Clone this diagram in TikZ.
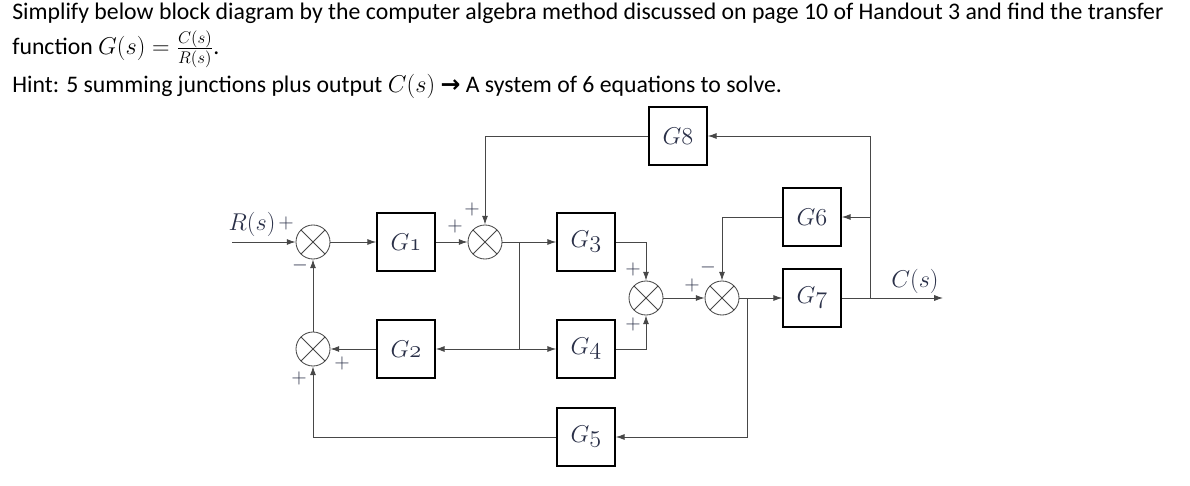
\documentclass[tikz,border=0pt]{standalone}
\usepackage{amsmath}
\usepackage[HTML]{xcolor}
\usepackage{fontspec}
\setmainfont{Carlito}
\newfontfamily\arrowfont{DejaVu Sans}
\usetikzlibrary{arrows.meta}

\definecolor{wire}{HTML}{474747}
\definecolor{ink}{HTML}{2A3048}
\newcommand\blockfont{\fontsize{18}{20}\selectfont\color{ink}}
\newcommand\sigfont{\fontsize{16}{18}\selectfont\color{ink}}
\newcommand\signfont{\fontsize{15}{17}\selectfont\color{ink}}

\begin{document}
\begin{tikzpicture}[x=0.025cm,y=-0.025cm,
  title/.style={anchor=base west,inner sep=0pt,font=\fontsize{16.9}{20}\selectfont},
  block/.style={draw=black,line width=1.1pt,minimum size=1.45cm,inner sep=0pt,font=\blockfont},
  sumj/.style={draw=wire,circle,line width=0.6pt,minimum size=0.85cm,inner sep=0pt,
    path picture={\draw[wire,line width=0.6pt]
      (path picture bounding box.north west)--(path picture bounding box.south east)
      (path picture bounding box.south west)--(path picture bounding box.north east);}},
  sig/.style={draw=wire,line width=0.6pt,-{Latex[length=2.2mm,width=1.5mm]}},
  sign/.style={inner sep=0pt,font=\signfont}]
\useasboundingbox (0,0) rectangle (1190,486);

% question
\node[title] (t1) at (12,20) {Simplify below block diagram by the computer algebra method discussed on page 10 of Handout 3 and find the transfer};
\node[title] (t2) at (12,55) {function $G(s)=\frac{C(s)}{R(s)}$.};
\node[title] (t3) at (12,93) {Hint: 5 summing junctions plus output $C(s)$ {\arrowfont\bfseries →} A system of 6 equations to solve.};

% summing junctions
\node[sumj] (S1) at (313,242) {};
\node[sumj] (S2) at (313,349) {};
\node[sumj] (S3) at (485,242) {};
\node[sumj] (S4) at (646,298) {};
\node[sumj] (S5) at (722,298) {};
% blocks
\node[block] (G1) at (406,242) {$G\mathnormal{1}$};
\node[block] (G2) at (406,349) {$G\mathnormal{2}$};
\node[block] (G3) at (586,242) {$G\mathnormal{3}$};
\node[block] (G4) at (586,349) {$G\mathnormal{4}$};
\node[block] (G5) at (586,437) {$G\mathnormal{5}$};
\node[block] (G6) at (812,217) {$G\mathnormal{6}$};
\node[block] (G7) at (812,298) {$G\mathnormal{7}$};
\node[block] (G8) at (678,136) {$G\mathnormal{8}$};
% branch points
\coordinate (in) at (232,242);
\coordinate (J1) at (519,242);
\coordinate (J4) at (519,349);
\coordinate (J2) at (747,298);
\coordinate (J3) at (870,298);
\coordinate (J6) at (870,217);
\coordinate (out) at (943,298);

% signals
\node[font=\sigfont,inner sep=0pt] (R) at (252,224) {$R(s)$};
\node[font=\sigfont,inner sep=0pt] (C) at (915,281) {$C(s)$};

% forward path
\draw[sig] (in)--(S1);
\draw[sig] (S1)--(G1);
\draw[sig] (G1)--(S3);
\draw[sig] (S3)--(G3);
\draw[wire,line width=0.6pt] (J1)--(J4);
\draw[sig] (J4)--(G4);
\draw[sig] (J4)--(G2);
\draw[sig] (G3)-|(S4);
\draw[sig] (G4)-|(S4);
\draw[sig] (S4)--(S5);
\draw[sig] (S5)--(G7);
\draw[sig] (G7)--(out);
% feedback paths
\draw[sig] (G2)--(S2);
\draw[sig] (S2)--(S1);
\draw[sig] (J3)|-(G8);
\draw[sig] (G8)-|(S3);
\draw[sig] (J6)--(G6);
\draw[sig] (G6)-|(S5);
\draw[sig] (J2)|-(G5);
\draw[sig] (G5)-|(S2);

% signs
\node[sign] (p1) at (286,223) {$+$};
\node[sign] (m1) at (300,265) {$-$};
\node[sign] (p2) at (342,363) {$+$};
\node[sign] (p3) at (299,378) {$+$};
\node[sign] (p4) at (472,209) {$+$};
\node[sign] (p5) at (455,226) {$+$};
\node[sign] (p6) at (633,269) {$+$};
\node[sign] (p7) at (633,324) {$+$};
\node[sign] (m2) at (708,267) {$-$};
\node[sign] (p8) at (692,285) {$+$};
\end{tikzpicture}
\end{document}
